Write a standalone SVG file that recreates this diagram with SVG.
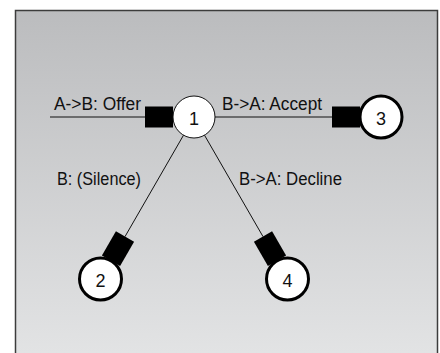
<svg xmlns="http://www.w3.org/2000/svg" width="440" height="353" viewBox="0 0 440 353">
<defs>
<linearGradient id="bg" x1="0" y1="0" x2="0" y2="1">
<stop offset="0" stop-color="#bbbcbe"/>
<stop offset="1" stop-color="#e4e5e6"/>
</linearGradient>
</defs>
<style>
.lbl{font-family:"Liberation Sans",Arial,sans-serif;font-size:18px;fill:#111}
.num{font-family:"Liberation Sans",Arial,sans-serif;font-size:18px;fill:#111;text-anchor:middle}
.ln{stroke:#111;stroke-width:1;fill:none}
.tab{fill:#000}
.start{fill:#fff;stroke:#111;stroke-width:1}
.end{fill:#fff;stroke:#000;stroke-width:3}
</style>
<rect x="15.5" y="10.5" width="422" height="360" fill="url(#bg)" stroke="#3c3c3c" stroke-width="1.5"/>
<g id="connectors">
<line class="ln" x1="50" y1="117" x2="146" y2="117"/>
<line class="ln" x1="215" y1="117" x2="333" y2="117"/>
<line class="ln" x1="183.5" y1="135.2" x2="125" y2="236.6"/>
<line class="ln" x1="204.5" y1="135.2" x2="263" y2="236.6"/>
<rect class="tab" transform="translate(194 117) rotate(180)" x="21" y="-10.5" width="28" height="21"/>
<rect class="tab" transform="translate(381 117) rotate(180)" x="21" y="-10.5" width="28" height="21"/>
<rect class="tab" transform="translate(100.5 279) rotate(-60)" x="21" y="-10.5" width="28" height="21"/>
<rect class="tab" transform="translate(287.5 279) rotate(-120)" x="21" y="-10.5" width="28" height="21"/>
<text class="lbl" x="54" y="110" textLength="87" lengthAdjust="spacingAndGlyphs">A-&gt;B: Offer</text>
<text class="lbl" x="222" y="109.5" textLength="100" lengthAdjust="spacingAndGlyphs">B-&gt;A: Accept</text>
<text class="lbl" x="57" y="184.5" textLength="84" lengthAdjust="spacingAndGlyphs">B: (Silence)</text>
<text class="lbl" x="239" y="184.5" textLength="103" lengthAdjust="spacingAndGlyphs">B-&gt;A: Decline</text>
</g>
<g id="node1">
<circle class="start" cx="194" cy="117" r="21"/>
<text class="num" x="194" y="124.5">1</text>
</g>
<g id="node3">
<circle class="end" cx="381" cy="117" r="21"/>
<text class="num" x="381" y="124.5">3</text>
</g>
<g id="node2">
<circle class="end" cx="100.5" cy="279" r="21"/>
<text class="num" x="100.5" y="286.5">2</text>
</g>
<g id="node4">
<circle class="end" cx="287.5" cy="279" r="21"/>
<text class="num" x="287.5" y="286.5">4</text>
</g>
</svg>
